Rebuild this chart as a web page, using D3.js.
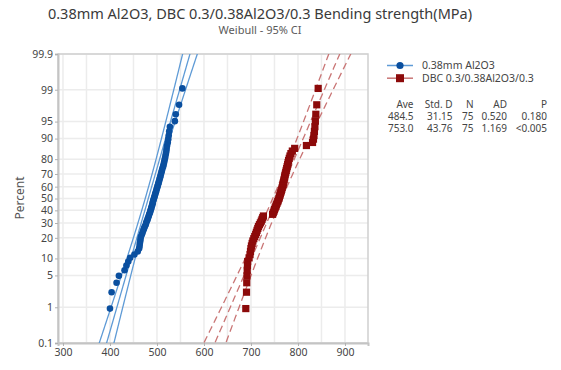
<!DOCTYPE html>
<html>
<head>
<meta charset="utf-8">
<script src="https://cdn.jsdelivr.net/npm/d3@7"></script>
<style>
body { margin:0; background:#fff; }
text { font-family: "Segoe UI", "Noto Sans", "Open Sans", sans-serif; }
</style>
</head>
<body>
<script>
var seriesNames = ['0.38mm Al2O3', 'DBC 0.3/0.38Al2O3/0.3'];

// bending strength, sorted (MPa)
var al2o3 = [400, 403.5, 414, 419, 431, 435, 439, 443, 452, 459,
  462, 463, 463.5, 464.5, 465, 466, 468, 469.5, 471, 472.5,
  474, 476, 477, 478.5, 480, 481, 482.5, 483.5, 485, 486,
  487, 488, 489, 490, 491, 491.5, 492.5, 493.5, 494.5, 495.5,
  496.5, 497.5, 498.5, 499.5, 500.5, 501.5, 502.5, 503.5, 504.5, 505.5,
  506.5, 507.5, 508.5, 509.5, 510.5, 511.5, 513, 514, 515, 516,
  517, 518, 519, 520, 520.5, 521.5, 523, 524, 525, 526,
  527.5, 538, 540, 547, 554];
var dbc = [689, 690.5, 691, 691.5, 692, 692.5, 693, 696, 698, 699,
  700, 701, 702.5, 704, 706, 708, 710, 711.5, 713, 714.5,
  716, 718, 720, 722, 723.5, 725, 726.5, 746, 747.5, 749,
  750, 751.5, 753, 754, 755.5, 757, 758, 759.5, 760.5, 761.5,
  762.5, 763.5, 764.5, 765.5, 766.5, 767.5, 768.5, 769, 770, 770.5,
  771.5, 772, 773, 774, 775, 776, 777, 778, 779, 780,
  781.5, 783, 785, 788, 793, 818, 831, 833, 834, 835,
  836, 837, 838, 840, 843];

// fitted line location / scale as drawn
var fitLoc = [481.5, 756];
var fitScale = [28.7, 43];

var xTicks = [300, 400, 500, 600, 700, 800, 900];
var xGrid = [300, 350, 400, 450, 500, 550, 600, 650, 700, 750, 800, 850, 900];
var pTicks = [0.1, 1, 5, 10, 20, 30, 40, 50, 60, 70, 80, 90, 95, 99, 99.9];

var tableHead = ['Ave', 'Std. D', 'N', 'AD', 'P'];
var tableRows = [['484.5', '31.15', '75', '0.520', '0.180'],
                 ['753.0', '43.76', '75', '1.169', '<0.005']];

var markColor = ['#0a4f9f', '#8c0a0a'];
var lineColor = ['#5f9bd6', '#c97575'];

// inverse normal cdf (Acklam)
function qnorm(p) {
  var a = [-3.969683028665376e+01, 2.209460984245205e+02, -2.759285104469687e+02, 1.383577518672690e+02, -3.066479806614716e+01, 2.506628277459239e+00];
  var b = [-5.447609879822406e+01, 1.615858368580409e+02, -1.556989798598866e+02, 6.680131188771972e+01, -1.328068155288572e+01];
  var c = [-7.784894002430293e-03, -3.223964580411365e-01, -2.400758277161838e+00, -2.549732539343734e+00, 4.374664141464968e+00, 2.938163982698783e+00];
  var d = [7.784695709041462e-03, 3.224671290700398e-01, 2.445134137142996e+00, 3.754408661907416e+00];
  var pl = 0.02425, q, r;
  if (p < pl) {
    q = Math.sqrt(-2 * Math.log(p));
    return (((((c[0]*q+c[1])*q+c[2])*q+c[3])*q+c[4])*q+c[5]) / ((((d[0]*q+d[1])*q+d[2])*q+d[3])*q+1);
  }
  if (p > 1 - pl) {
    q = Math.sqrt(-2 * Math.log(1 - p));
    return -(((((c[0]*q+c[1])*q+c[2])*q+c[3])*q+c[4])*q+c[5]) / ((((d[0]*q+d[1])*q+d[2])*q+d[3])*q+1);
  }
  q = p - 0.5; r = q * q;
  return (((((a[0]*r+a[1])*r+a[2])*r+a[3])*r+a[4])*r+a[5])*q / (((((b[0]*r+b[1])*r+b[2])*r+b[3])*r+b[4])*r+1);
}

var width = 561, height = 370,
    pLeft = 58, pRight = 368, pTop = 54, pBottom = 343;

var x = d3.scaleLinear().domain([289.4, 949]).range([pLeft, pRight]);
var zMin = qnorm(0.001), zMax = qnorm(0.999);
var y = d3.scaleLinear().domain([zMin, zMax]).range([pBottom, pTop]);

var svg = d3.select('body').append('svg').attr('width', width).attr('height', height);

svg.append('defs').append('clipPath').attr('id', 'clip')
  .append('rect').attr('x', pLeft).attr('y', pTop).attr('width', pRight - pLeft).attr('height', pBottom - pTop);

// titles
svg.append('text').attr('x', 260).attr('y', 19).attr('text-anchor', 'middle')
  .style('font-size', '14.5px').style('fill', '#3a3a3a')
  .text('0.38mm Al2O3, DBC 0.3/0.38Al2O3/0.3 Bending strength(MPa)');
svg.append('text').attr('x', 260).attr('y', 33.5).attr('text-anchor', 'middle')
  .style('font-size', '11px').style('fill', '#5a5a5a')
  .text('Weibull - 95% CI');

// grid
var grid = svg.append('g');
grid.selectAll('.vg').data(xGrid).enter().append('line')
  .attr('x1', function(d) { return x(d); }).attr('x2', function(d) { return x(d); })
  .attr('y1', pTop).attr('y2', pBottom)
  .style('stroke', '#ececec').style('stroke-width', 1.5);
grid.selectAll('.hg').data(pTicks).enter().append('line')
  .attr('x1', pLeft).attr('x2', pRight)
  .attr('y1', function(d) { return y(qnorm(d / 100)); }).attr('y2', function(d) { return y(qnorm(d / 100)); })
  .style('stroke', '#ececec').style('stroke-width', 1.5);

// box
svg.append('rect').attr('x', pLeft).attr('y', pTop).attr('width', pRight - pLeft).attr('height', pBottom - pTop)
  .style('fill', 'none').style('stroke', '#cfcfcf').style('stroke-width', 1.5);

// axes
var xAxis = svg.append('g').attr('transform', 'translate(0,' + pBottom + ')')
  .call(d3.axisBottom(x).tickValues(xTicks).tickSize(3).tickPadding(3));
var yAxis = svg.append('g').attr('transform', 'translate(' + pLeft + ',0)')
  .call(d3.axisLeft(y).tickValues(pTicks.map(function(d) { return qnorm(d / 100); }))
    .tickFormat(function(d, i) { return pTicks[i]; }).tickSize(3).tickPadding(2));
[xAxis, yAxis].forEach(function(a) {
  a.select('.domain').style('stroke', '#c4c4c4').style('stroke-width', 2);
  a.selectAll('.tick line').style('stroke', '#b0b0b0');
  a.selectAll('.tick text').style('font-size', '10.5px').style('fill', '#454545')
    .style('font-family', '"Segoe UI", "Noto Sans", sans-serif');
});

svg.append('text').attr('transform', 'translate(24,198) rotate(-90)').attr('text-anchor', 'middle')
  .style('font-size', '12px').style('fill', '#555').text('Percent');

// fit lines with confidence bounds
var plot = svg.append('g').attr('clip-path', 'url(#clip)');
var zs = d3.range(zMin - 0.2, zMax + 0.25, 0.05);
[al2o3, dbc].forEach(function(data, s) {
  var n = data.length;
  [-1, 0, 1].forEach(function(k) {
    var line = d3.line()
      .x(function(z) {
        var ci = 1.96 * fitScale[s] / Math.sqrt(n) * Math.sqrt(1 + z * z / 2);
        return x(fitLoc[s] + fitScale[s] * z + k * ci);
      })
      .y(function(z) { return y(z); });
    plot.append('path').attr('d', line(zs))
      .style('fill', 'none').style('stroke', lineColor[s]).style('stroke-width', 1.3)
      .style('stroke-dasharray', s == 1 ? '7,4' : null);
  });
});

// points at median ranks
function ranks(data) {
  var n = data.length;
  return data.slice().sort(d3.ascending).map(function(v, i) {
    return { v: v, z: qnorm((i + 1 - 0.3) / (n + 0.4)) };
  });
}
svg.append('g').selectAll('circle').data(ranks(al2o3)).enter().append('circle')
  .attr('cx', function(d) { return x(d.v); }).attr('cy', function(d) { return y(d.z); })
  .attr('r', 3.3).style('fill', markColor[0]);
svg.append('g').selectAll('rect').data(ranks(dbc)).enter().append('rect')
  .attr('x', function(d) { return x(d.v) - 3.6; }).attr('y', function(d) { return y(d.z) - 3.6; })
  .attr('width', 7.2).attr('height', 7.2).style('fill', markColor[1]);

// legend
var leg = svg.append('g');
seriesNames.forEach(function(name, s) {
  var ly = 65.5 + s * 12.7;
  leg.append('line').attr('x1', 387).attr('x2', 413).attr('y1', ly).attr('y2', ly)
    .style('stroke', lineColor[s]).style('stroke-width', 1.5);
  if (s == 0) leg.append('circle').attr('cx', 400).attr('cy', ly).attr('r', 3.6).style('fill', markColor[0]);
  else leg.append('rect').attr('x', 396).attr('y', ly - 4).attr('width', 8).attr('height', 8).style('fill', markColor[1]);
  leg.append('text').attr('x', 422).attr('y', ly + 3.7).style('font-size', '10.5px').style('fill', '#454545').text(name);
});

// stats table
var colX = [413.5, 452.5, 473.5, 507, 547];
var tab = svg.append('g').style('font-size', '10px').style('fill', '#454545');
tableHead.forEach(function(h, j) {
  tab.append('text').attr('x', colX[j]).attr('y', 108).attr('text-anchor', 'end').text(h);
});
tableRows.forEach(function(row, r) {
  row.forEach(function(v, j) {
    tab.append('text').attr('x', colX[j]).attr('y', 120 + r * 12).attr('text-anchor', 'end').text(v);
  });
});
</script>
</body>
</html>
